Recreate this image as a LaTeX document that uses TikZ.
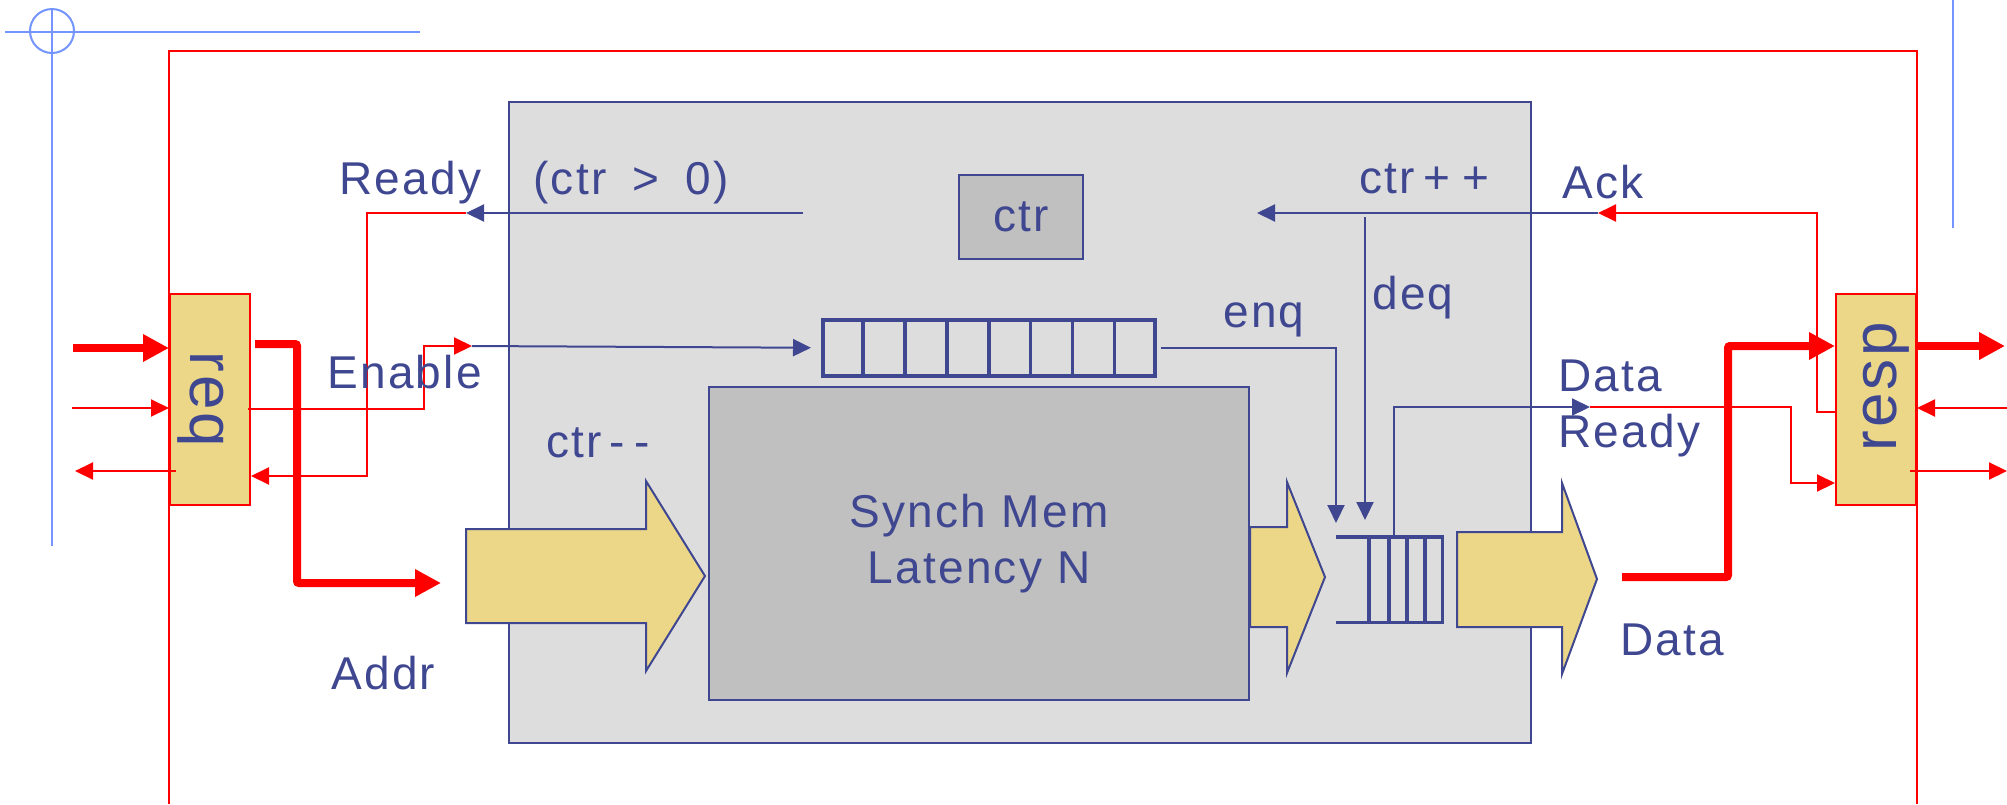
\documentclass[tikz,border=0pt]{standalone}
\usepackage{fontspec}
\setmainfont{Liberation Sans}[LetterSpace=5]
\usepackage{tikz}
\usetikzlibrary{
  arrows.meta,
  positioning,
  calc
}
\definecolor{mbBlue}{HTML}{3F4791}
\definecolor{mbRed}{HTML}{FF0000}
\definecolor{mbGuide}{HTML}{7494FF}
\definecolor{mbUnit}{HTML}{DDDDDD}
\definecolor{mbMem}{HTML}{C0C0C0}
\definecolor{mbGold}{HTML}{EBD787}
\tikzset{
  lbl/.style={font=\fontsize{46}{56}\selectfont, text=mbBlue, inner sep=0pt},
  biglbl/.style={font=\fontsize{62}{70}\selectfont, text=mbBlue, inner sep=0pt},
  unitbox/.style={draw=mbBlue, fill=mbUnit, line width=2pt, anchor=north west, inner sep=0pt},
  membox/.style={lbl, draw=mbBlue, fill=mbMem, line width=2pt, anchor=north west, align=center},
  port/.style={draw=mbRed, fill=mbGold, line width=2pt, anchor=north west,
    minimum width=80pt, minimum height=211pt, inner sep=0pt},
  queue/.style={draw=mbBlue, line width=3.5pt, anchor=north west, inner sep=0pt},
  fifo/.style={draw=mbBlue, line width=3.5pt},
  guide/.style={draw=mbGuide, line width=2pt},
  border/.style={draw=mbRed, line width=2pt},
  sig/.style={-{Triangle[length=18pt, width=17pt]}, line width=2pt, mbBlue},
  wire/.style={-{Triangle[length=18pt, width=17pt]}, line width=2pt, mbRed},
  bus/.style={-{Triangle[length=26pt, width=26pt]}, line width=8pt, mbRed, rounded corners=2pt},
  dataarrow/.style={draw=mbBlue, fill=mbGold, line width=2pt}
}
\begin{document}
\begin{tikzpicture}[x=1pt, y=-1pt]
  \useasboundingbox (0,0) rectangle (2007,804);
  \draw[guide] (5,32) -- (420,32);
  \draw[guide] (52,8) -- (52,546);
  \draw[guide] (52,31) circle (22pt);
  \draw[guide] (1953,0) -- (1953,228);
  \draw[border] (169,804) |- (1917,51) -- (1917,804);

  \node[unitbox, minimum width=1022pt, minimum height=641pt] (unit) at (508,101) {};
  \node[membox, minimum width=124pt, minimum height=84pt] (ctr) at (958,174) {ctr};
  \node[membox, minimum width=540pt, minimum height=313pt] (mem) at (708,386) {Synch Mem\\Latency N};
  \node[queue, minimum width=332pt, minimum height=56pt] (inq) at (821,318) {};
  \foreach \i in {1,...,7}
    \draw[fifo] ($(inq.north west)!\i/8!(inq.north east)$) -- ($(inq.south west)!\i/8!(inq.south east)$);
  \node[anchor=north west, inner sep=0pt, minimum width=106pt, minimum height=85pt] (outq) at (1336,537) {};
  \draw[fifo] (outq.north west) -| (outq.south east) -- (outq.south west);
  \foreach \x in {1369,1389,1407,1425}
    \draw[fifo] (\x,537) -- (\x,622);

  % data paths
  \draw[dataarrow] (466,529) -- (646,529) -- (646,481) -- (705,576) -- (646,671) -- (646,623) -- (466,623) -- cycle;
  \draw[dataarrow] (mem.east |- 0,527) -- (1287,527) -- (1287,482) -- (1325,577) -- (1287,673) -- (1287,627) -- (mem.east |- 0,627) -- cycle;
  \draw[dataarrow] (1457,532) -- (1562,532) -- (1562,483) -- (1597,579) -- (1562,674) -- (1562,627) -- (1457,627) -- cycle;

  \node[port] (req) at (169,293) {};
  \node[port] (resp) at (1835,293) {};
  \node[biglbl, rotate=-90] at ([xshift=-9pt]req.center) {req};
  \node[biglbl, rotate=90] at ([xshift=10pt, yshift=13pt]resp.center) {resp};

  \coordinate (rdyFrom) at (803,213);
  \coordinate (rdyTo) at (466,213);
  \coordinate (enTo) at (472,346);
  \coordinate (ackTo) at (1598,213);
  \coordinate (incTo) at (1257,213);
  \coordinate (deqFrom) at (1365,217);
  \coordinate (drTo) at (1590,407);
  \coordinate (reqIn) at (73,348);
  \coordinate (reqVal) at (72,408);
  \coordinate (reqRdy) at (75,471);
  \coordinate (addrTo) at (441,583);
  \coordinate (dataFrom) at (1622,577);
  \coordinate (respOut) at (2005,346);
  \coordinate (respAck) at (2007,408);
  \coordinate (respVal) at (2007,471);

  \draw[sig] (rdyFrom) -- (rdyTo);
  \draw[wire] (rdyTo) -| (367,476) -- (req.east |- 0,476);
  \draw[wire] ([xshift=-3pt]req.east |- 0,409) -| (424,346) -- (enTo);
  \draw[sig] (enTo) -- ([xshift=-10pt]inq.west);
  \draw[sig] ([xshift=4pt]inq.east) -| ([yshift=14pt]outq.north west);
  \draw[sig] (deqFrom) -- ([yshift=17pt]outq.north west -| deqFrom);
  \draw[wire] (resp.west |- 0,412) -| (1817,213) -- (ackTo);
  \draw[sig] (ackTo) -- (incTo);
  \draw[sig] (outq.north west -| 1394,0) |- (drTo);
  \draw[wire] (drTo) -| (1791,483) -- (resp.west |- 0,483);

  \draw[bus] (reqIn) -- (req.west |- reqIn);
  \draw[wire] (reqVal) -- (req.west |- reqVal);
  \draw[wire] ([xshift=7pt]req.west |- reqRdy) -- (reqRdy);
  \draw[bus] ([xshift=4pt]req.east |- 0,344) -| (297,583) -- (addrTo);
  \draw[bus] (dataFrom) -| (1728,346) -- (resp.west |- respOut);
  \draw[bus] (resp.east |- respOut) -- (respOut);
  \draw[wire] (respAck) -- (resp.east |- respAck);
  \draw[wire] ([xshift=-7pt]resp.east |- respVal) -- (respVal);

  \node[lbl, anchor=base west] at (339,194) {Ready};
  \node[lbl, anchor=base west] at (533,194) {(ctr\kern26pt>\kern26pt0)};
  \node[lbl, anchor=base west] at (1359,193) {ctr\kern9pt+\kern12pt+};
  \node[lbl, anchor=base west] at (1562,198) {Ack};
  \node[lbl, anchor=base west] at (327,388) {Enable};
  \node[lbl, anchor=base west] at (546,457) {ctr\kern8pt{-}\kern9pt{-}};
  \node[lbl, anchor=base west] at (331,689) {Addr};
  \node[lbl, anchor=base west] at (1223,327) {enq};
  \node[lbl, anchor=base west] at (1372,309) {deq};
  \node[lbl, anchor=north west, align=left] at (1558,360) {Data\\Ready};
  \node[lbl, anchor=base west] at (1620,655) {Data};
\end{tikzpicture}
\end{document}
